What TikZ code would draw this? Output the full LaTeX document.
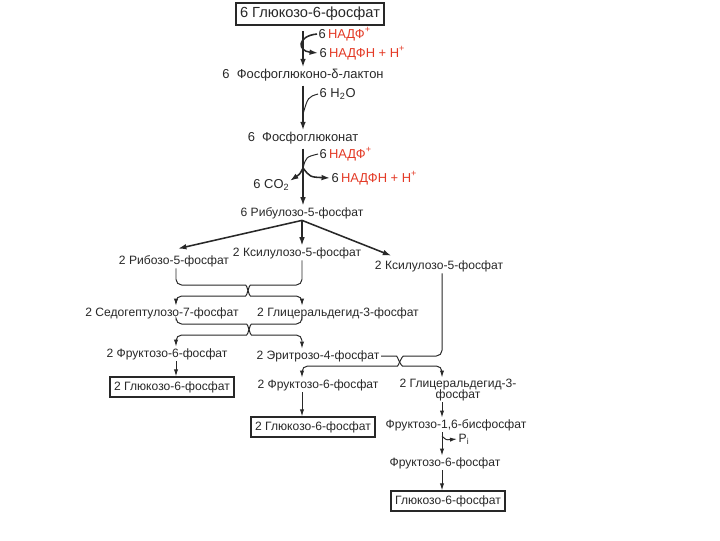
\documentclass[tikz,border=0pt]{standalone}
\usepackage{fontspec}
\setmainfont{Liberation Sans}
\usepackage{xcolor}
\usepackage{tikz}
\usetikzlibrary{arrows.meta, positioning, calc}
\definecolor{chern}{RGB}{40,40,40}
\definecolor{krasn}{RGB}{228,58,38}
\tikzset{
  metab/.style={inner sep=1pt, text=chern, font=\fontsize{8.6}{9}\selectfont},
  verkh/.style={metab, font=\fontsize{9.2}{10}\selectfont},
  ramka/.style={metab, draw=chern, line width=1pt, inner xsep=3pt, inner ysep=3pt},
  strelka/.style={-{Latex[length=6pt,width=4pt]}, line width=1.1pt, draw=chern},
  tonkaya/.style={-{Latex[length=5pt,width=3pt]}, line width=0.7pt, draw=chern},
  liniya/.style={line width=0.7pt, draw=chern, rounded corners=4pt}
}
\newcommand{\nadf}{\textcolor{krasn}{НАДФ\textsuperscript{+}}}
\newcommand{\nadfh}{\textcolor{krasn}{НАДФН + Н\textsuperscript{+}}}

\begin{document}
\begin{tikzpicture}[x=0.025cm, y=-0.025cm]
  \useasboundingbox[fill=white] (0,0) rectangle (720,540);
  \coordinate (k0) at (303,0);
  \coordinate (k1) at (176,0);
  \coordinate (k2) at (302,0);
  \coordinate (k3) at (442,0);

  \node[ramka, font=\fontsize{10.4}{11}\selectfont, minimum height=0.48cm] (g6p) at (310,14) {6 Глюкозо-6-фосфат};
  \node[verkh, anchor=west] (nadp1) at (317,34) {6\,\nadf};
  \node[verkh, anchor=west] (nadph1) at (318,53) {6\,\nadfh};
  \node[verkh] (lac) at (303,75) {6~~Фосфоглюконо-δ-лактон};
  \node[verkh, anchor=west] (h2o) at (318,94) {6 H\textsubscript{2}O};
  \node[verkh] (pgl) at (303,138) {6~~Фосфоглюконат};
  \node[verkh, anchor=west] (nadp2) at (318,154) {6\,\nadf};
  \node[verkh, anchor=west] (nadph2) at (330,178) {6\,\nadfh};
  \node[verkh, anchor=east] (co2) at (291,185) {6~CO\textsubscript{2}};
  \node[metab] (ru5p) at (302,213) {6 Рибулозо-5-фосфат};
  \node[metab] (r5p) at (174,261) {2 Рибозо-5-фосфат};
  \node[metab] (xu5pa) at (297,253) {2 Ксилулозо-5-фосфат};
  \node[metab] (xu5pb) at (439,266) {2 Ксилулозо-5-фосфат};
  \node[metab] (s7p) at (162,313) {2 Седогептулозо-7-фосфат};
  \node[metab] (gap1) at (338,313) {2 Глицеральдегид-3-фосфат};
  \node[metab] (f6p1) at (167,354) {2 Фруктозо-6-фосфат};
  \node[metab] (e4p) at (318,356) {2 Эритрозо-4-фосфат};
  \node[ramka] (glc1) at (172,387) {2 Глюкозо-6-фосфат};
  \node[metab] (f6p2) at (318,385) {2 Фруктозо-6-фосфат};
  \node[metab, align=center] (gap2) at (458,390) {2 Глицеральдегид-3-\\[-1.5pt]фосфат};
  \node[ramka] (glc2) at (313,427) {2 Глюкозо-6-фосфат};
  \node[metab] (fbp) at (456,425) {Фруктозо-1,6-бисфосфат};
  \node[metab, anchor=west] (pi) at (457,439) {P\textsubscript{i}};
  \node[metab] (f6p3) at (445,463) {Фруктозо-6-фосфат};
  \node[ramka] (glc3) at (448,501) {Глюкозо-6-фосфат};

  \draw[strelka, shorten <=4pt] (g6p.south -| k0) -- (lac.north -| k0);
  \draw[strelka] (nadp1.west) .. controls (297,36) and (297,51) .. (nadph1.west);
  \draw[strelka, shorten <=2pt] (lac.south -| k0) -- (pgl.north -| k0);
  \draw[liniya] (h2o.west) .. controls (308,97) .. (303,114);
  \draw[strelka, shorten <=2pt] (pgl.south -| k0) -- (ru5p.north -| k0);
  \coordinate (j3) at (303,168);
  \draw[liniya] (nadp2.west) .. controls (306,157) .. (j3);
  \draw[strelka] (j3) .. controls (300,174) .. ($(co2.north east)+(-1,3)$);
  \draw[strelka] (j3) .. controls (310,177) .. (nadph2.west);

  \draw[strelka] (ru5p.south) -- ($(r5p.north)+(4,-5)$);
  \draw[strelka] (ru5p.south) -- (xu5pa.north -| ru5p.south);
  \draw[strelka] (ru5p.south) -- ($(xu5pb.north west)+(18,-3)$);

  \draw[liniya, tonkaya] (r5p.south -| k1) |- (240,285) .. controls (247,285) and (249,296) .. (256,296) -| (gap1.north -| k2);
  \draw[liniya, tonkaya] (xu5pa.south -| k2) |- (256,285) .. controls (249,285) and (247,296) .. (240,296) -| (s7p.north -| k1);
  \draw[liniya, tonkaya] (s7p.south -| k1) |- (241,324) .. controls (248,324) and (250,335) .. (257,335) -| (e4p.north -| k2);
  \draw[liniya, tonkaya] (gap1.south -| k2) |- (257,324) .. controls (250,324) and (248,335) .. (241,335) -| (f6p1.north -| k1);
  \draw[liniya, tonkaya] (e4p.east) -- (391,356) .. controls (397,356) and (401,366) .. (408,366) -| (gap2.north -| k3);
  \draw[liniya, tonkaya] (xu5pb.south -| k3) |- (409,356) .. controls (402,356) and (398,366) .. (392,366) -| (f6p2.north -| k2);

  \draw[tonkaya] (f6p1.south -| k1) -- (glc1.north -| k1);
  \draw[tonkaya] (f6p2.south -| k2) -- (glc2.north -| k2);
  \draw[tonkaya] (gap2.south -| k3) -- (fbp.north -| k3);
  \draw[tonkaya] (fbp.south -| k3) -- (f6p3.north -| k3);
  \coordinate (jp) at (442,436);
  \draw[tonkaya] (jp) .. controls (446,440) .. (pi.west);
  \draw[tonkaya] (f6p3.south -| k3) -- (glc3.north -| k3);
\end{tikzpicture}
\end{document}
